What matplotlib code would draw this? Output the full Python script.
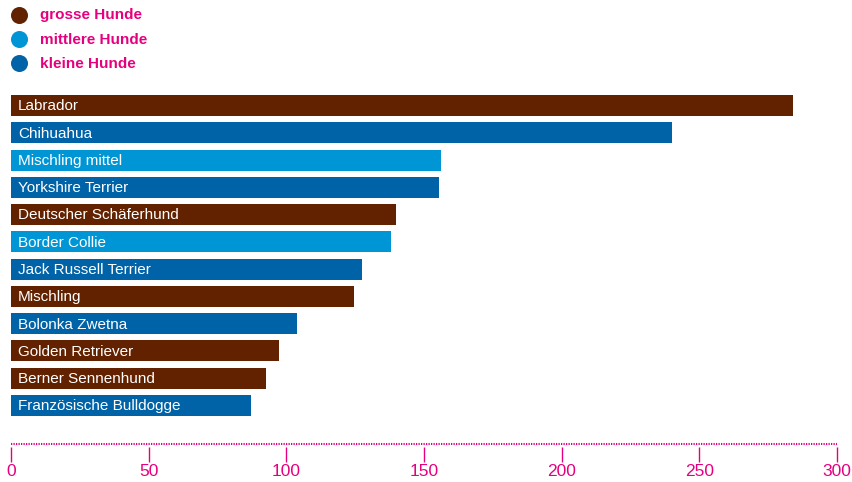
import matplotlib
matplotlib.use("Agg")
import matplotlib.pyplot as plt

# data
breeds = ["Labrador", "Chihuahua", "Mischling mittel", "Yorkshire Terrier",
          "Deutscher Schäferhund", "Border Collie", "Jack Russell Terrier",
          "Mischling", "Bolonka Zwetna", "Golden Retriever",
          "Berner Sennenhund", "Französische Bulldogge"]
counts = [284, 240, 156, 155.5, 140, 138, 127.5, 124.5, 104, 97.5, 92.5, 87]
sizes = ["gross", "klein", "mittel", "klein", "gross", "mittel", "klein",
         "gross", "klein", "gross", "gross", "klein"]
size_names = ["gross", "mittel", "klein"]
legend_labels = ["grosse Hunde", "mittlere Hunde", "kleine Hunde"]
ticks = [0, 50, 100, 150, 200, 250, 300]

colors = {"gross": "#622200", "mittel": "#0096D6", "klein": "#0063A8"}
pink = "#E6007E"

plt.rcParams["font.family"] = ["Liberation Sans", "DejaVu Sans"]

fig = plt.figure(figsize=(8.53, 4.82), dpi=100)
W, H = 853, 482

# main axes: x from px 11 to 837, y from px 90 to 444
ax = fig.add_axes([11 / W, 1 - 444 / H, (837 - 11) / W, (444 - 90) / H])
y = list(range(len(breeds)))
ax.barh(y, counts, height=0.77, color=[colors[s] for s in sizes])
for i, name in enumerate(breeds):
    ax.text(2.5, i + 0.03, name, color="white", fontsize=11, va="center",
            ha="left")

ax.set_xlim(0, 300)
ax.set_ylim(12.41, -0.568)
ax.set_yticks([])
ax.set_xticks(ticks)
ax.set_xticklabels([str(t) for t in ticks])
for s in ["top", "right", "left", "bottom"]:
    ax.spines[s].set_visible(False)
ax.spines["bottom"].set_position(("outward", 2.2))
# dotted baseline
ax.plot([0, 300], [12.41, 12.41], color=pink, lw=1.5,
        linestyle=(0, (0.6, 0.6)), dash_capstyle="butt", clip_on=False)
ax.tick_params(axis="x", colors=pink, direction="out", length=10.5, width=1.0,
               pad=1.5, labelsize=12.5)

# legend
ov = fig.add_axes([0, 0, 1, 1], facecolor="none")
ov.set_xlim(0, W)
ov.set_ylim(H, 0)
ov.axis("off")
for k, (nm, lab) in enumerate(zip(size_names, legend_labels)):
    yy = 15 + 24 * k
    ov.scatter([19], [yy], s=150, color=colors[nm], linewidths=0)
    ov.text(40, yy + 0.5, lab, color=pink, fontsize=11, fontweight="bold",
            va="center", ha="left")

fig.savefig("out.png", dpi=100)
